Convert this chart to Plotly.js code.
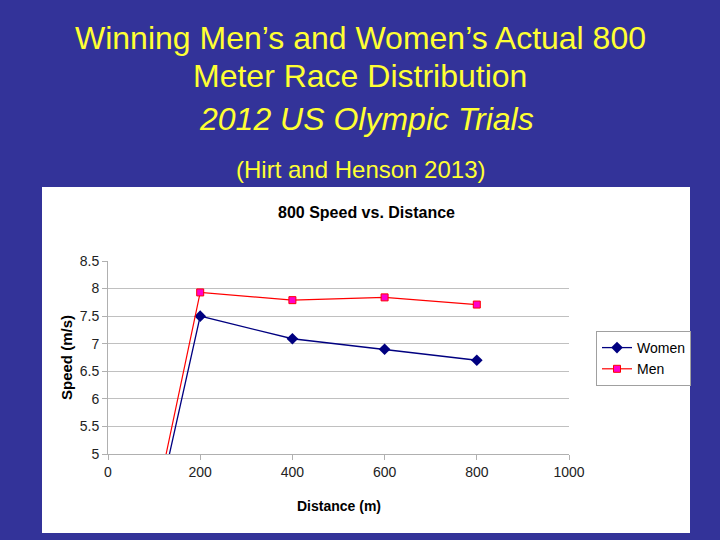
<!DOCTYPE html>
<html>
<head>
<meta charset="utf-8">
<script src="https://cdn.plot.ly/plotly-3.0.1.min.js"></script>
<style>html,body{margin:0;padding:0;background:#333399;}#chart{width:720px;height:540px;}</style>
</head>
<body>
<div id="chart"></div>
<script>
// Data
var distance = [0, 200, 400, 600, 800];
var women = [0, 7.5, 7.09, 6.9, 6.7];
var men = [0, 7.93, 7.79, 7.84, 7.71];
var xTicks = [0, 200, 400, 600, 800, 1000];
var yTicks = [5, 5.5, 6, 6.5, 7, 7.5, 8, 8.5];

var L = 108, R = 569, T = 261, B = 454;
function fx(px) { return (px - L) / (R - L); }
function fy(py) { return (B - py) / (B - T); }
var FONT = "Liberation Sans, Arial, sans-serif";
var YEL = "#ffff33";

var traces = [
  {x: distance, y: women, name: "Women", mode: "lines+markers", type: "scatter",
   line: {color: "#000080", width: 1.3},
   marker: {symbol: "diamond", size: 9, color: "#000080"}},
  {x: distance, y: men, name: "Men", mode: "lines+markers", type: "scatter",
   line: {color: "#ff0000", width: 1.2},
   marker: {symbol: "square", size: 7, color: "#ff00cc", line: {color: "#ff0000", width: 1}}}
];

var layout = {
  width: 720, height: 540,
  margin: {l: L, r: 720 - R, t: T, b: 540 - B, pad: 0},
  paper_bgcolor: "#333399",
  plot_bgcolor: "rgba(0,0,0,0)",
  showlegend: true,
  legend: {x: fx(596), y: fy(331), xanchor: "left", yanchor: "top",
           bgcolor: "#ffffff", bordercolor: "#a0a0a0", borderwidth: 1,
           font: {family: FONT, size: 14, color: "#000000"},
           tracegroupgap: 2, itemwidth: 30},
  xaxis: {range: [0, 1000], tickvals: xTicks, ticktext: xTicks.map(String),
          showgrid: false, zeroline: false, showline: true, linecolor: "#b0b0b0", linewidth: 1,
          ticks: "outside", ticklen: 5, tickcolor: "#b0b0b0",
          tickfont: {family: FONT, size: 14, color: "#222222"}, fixedrange: true},
  yaxis: {range: [5, 8.5], tickvals: yTicks, ticktext: yTicks.map(String),
          showgrid: true, gridcolor: "#c0c0c0", gridwidth: 1, zeroline: false,
          showline: true, linecolor: "#b0b0b0", linewidth: 1,
          ticks: "outside", ticklen: 5, tickcolor: "#b0b0b0",
          tickfont: {family: FONT, size: 14, color: "#222222"}, fixedrange: true},
  shapes: [
    {type: "rect", xref: "paper", yref: "paper", layer: "below",
     x0: fx(42), x1: fx(690), y0: fy(533), y1: fy(187),
     fillcolor: "#ffffff", line: {width: 0}}
  ],
  annotations: [
    {text: "Winning Men\u2019s and Women\u2019s Actual 800", xref: "paper", yref: "paper",
     x: fx(360), y: fy(38), xanchor: "center", yanchor: "middle", showarrow: false,
     font: {family: FONT, size: 32, color: YEL}},
    {text: "Meter Race Distribution", xref: "paper", yref: "paper",
     x: fx(360), y: fy(76), xanchor: "center", yanchor: "middle", showarrow: false,
     font: {family: FONT, size: 32, color: YEL}},
    {text: "<i>2012 US Olympic Trials</i>", xref: "paper", yref: "paper",
     x: fx(366), y: fy(119), xanchor: "center", yanchor: "middle", showarrow: false,
     font: {family: FONT, size: 32, color: YEL}},
    {text: "(Hirt and Henson 2013)", xref: "paper", yref: "paper",
     x: fx(360), y: fy(169), xanchor: "center", yanchor: "middle", showarrow: false,
     font: {family: FONT, size: 24, color: YEL}},
    {text: "<b>800 Speed vs. Distance</b>", xref: "paper", yref: "paper",
     x: fx(366), y: fy(212), xanchor: "center", yanchor: "middle", showarrow: false,
     font: {family: FONT, size: 16, color: "#000000"}},
    {text: "<b>Distance (m)</b>", xref: "paper", yref: "paper",
     x: fx(339), y: fy(506), xanchor: "center", yanchor: "middle", showarrow: false,
     font: {family: FONT, size: 14, color: "#000000"}},
    {text: "<b>Speed (m/s)</b>", xref: "paper", yref: "paper", textangle: -90,
     x: fx(66), y: fy(358), xanchor: "center", yanchor: "middle", showarrow: false,
     font: {family: FONT, size: 15, color: "#000000"}}
  ]
};

Plotly.newPlot("chart", traces, layout, {displayModeBar: false, staticPlot: true});
</script>
</body>
</html>
